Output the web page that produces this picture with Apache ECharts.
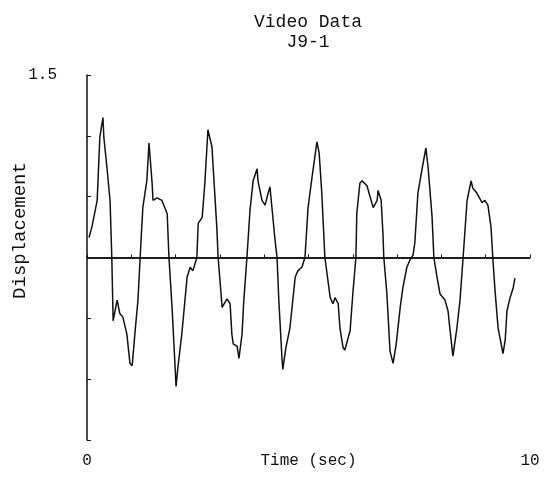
<!DOCTYPE html>
<html>
<head>
<meta charset="utf-8">
<script src="https://cdn.jsdelivr.net/npm/echarts@6/dist/echarts.min.js"></script>
<style>html,body{margin:0;padding:0;background:#fff;}#c{width:549px;height:483px;}</style>
</head>
<body>
<div id="c"></div>
<script>
var titleLines = ['Video Data', 'J9-1'];
var xTickLabels = ['0', '10'];
var yTickLabels = ['1.5'];
var timeSec = [0.045,0.11,0.23,0.29,0.32,0.36,0.38,0.45,0.52,0.56,0.59,0.68,0.74,0.81,0.90,0.97,1.02,1.08,1.15,1.20,1.26,1.35,1.40,1.47,1.49,1.58,1.69,1.81,1.85,1.92,1.99,2.01,2.05,2.14,2.26,2.33,2.39,2.48,2.51,2.60,2.66,2.73,2.82,2.93,2.96,3.05,3.16,3.23,3.27,3.30,3.39,3.43,3.50,3.54,3.61,3.68,3.75,3.84,3.86,3.95,4.02,4.09,4.13,4.18,4.24,4.29,4.33,4.40,4.42,4.49,4.58,4.70,4.76,4.85,4.92,4.99,5.08,5.19,5.24,5.30,5.37,5.49,5.55,5.60,5.67,5.71,5.78,5.82,5.94,6.00,6.07,6.09,6.16,6.21,6.32,6.34,6.46,6.55,6.57,6.64,6.68,6.70,6.77,6.84,6.91,6.98,7.07,7.13,7.22,7.29,7.36,7.40,7.47,7.56,7.65,7.70,7.79,7.83,7.90,7.97,8.08,8.15,8.19,8.26,8.35,8.42,8.49,8.58,8.67,8.71,8.80,8.92,8.98,9.05,9.12,9.16,9.21,9.28,9.39,9.44,9.48,9.55,9.62,9.66];
var displacement = [0.165,0.25,0.47,0.99,1.06,1.15,0.99,0.74,0.47,0,-0.52,-0.35,-0.46,-0.49,-0.63,-0.87,-0.89,-0.63,-0.35,0,0.41,0.63,0.94,0.61,0.47,0.49,0.47,0.36,0,-0.41,-0.91,-1.06,-0.91,-0.63,-0.16,-0.08,-0.11,0,0.28,0.33,0.61,1.05,0.91,0.25,0,-0.41,-0.34,-0.38,-0.63,-0.71,-0.73,-0.83,-0.63,-0.35,0,0.39,0.63,0.73,0.63,0.47,0.43,0.53,0.58,0.39,0.16,0,-0.35,-0.82,-0.92,-0.74,-0.58,-0.16,-0.11,-0.08,0,0.41,0.66,0.95,0.86,0.53,0,-0.33,-0.38,-0.33,-0.38,-0.58,-0.74,-0.76,-0.60,-0.30,0,0.36,0.61,0.63,0.59,0.58,0.41,0.47,0.55,0.47,0.20,0,-0.30,-0.77,-0.87,-0.71,-0.41,-0.25,-0.08,-0.02,0.02,0.12,0.53,0.72,0.90,0.74,0.33,0,-0.16,-0.30,-0.35,-0.44,-0.58,-0.81,-0.58,-0.35,0,0.47,0.63,0.57,0.53,0.45,0.47,0.43,0.25,0,-0.27,-0.58,-0.79,-0.68,-0.44,-0.33,-0.25,-0.17];

var pts = timeSec.map(function (t, i) { return [t, displacement[i]]; });
var font = 'Liberation Mono';
var chart = echarts.init(document.getElementById('c'));
chart.setOption({
  backgroundColor: '#fff',
  animation: false,
  title: {
    text: titleLines.join('\n'),
    left: 303, top: 7, textAlign: 'center',
    textStyle: { fontFamily: font, fontSize: 18, fontWeight: 'normal', color: '#111', lineHeight: 20 }
  },
  grid: { left: 87, right: 19, top: 75, bottom: 43, containLabel: false, outerBoundsMode: 'none' },
  xAxis: {
    type: 'value', min: 0, max: 10, interval: 1,
    name: 'Time (sec)', nameLocation: 'middle', nameGap: 13, nameMoveOverlap: false,
    nameTextStyle: { fontFamily: font, fontSize: 16, color: '#111' },
    axisLine: { lineStyle: { color: '#111', width: 1.5 } },
    axisTick: { inside: true, length: 3, lineStyle: { color: '#111' } },
    splitLine: { show: false },
    axisLabel: {
      margin: 13, fontFamily: font, fontSize: 16, color: '#111',
      formatter: function (v) { return v === 0 ? xTickLabels[0] : (v === 10 ? xTickLabels[1] : ''); }
    }
  },
  yAxis: {
    type: 'value', min: -1.5, max: 1.5, interval: 0.5,
    name: 'Displacement', nameLocation: 'middle', nameGap: 58, nameMoveOverlap: false,
    nameTextStyle: { fontFamily: font, fontSize: 19, color: '#111', padding: [0, 0, 0, 54] },
    axisLine: { lineStyle: { color: '#111', width: 1.5 } },
    axisTick: { inside: true, length: 4, lineStyle: { color: '#111' } },
    splitLine: { show: false },
    axisLabel: {
      margin: 30, fontFamily: font, fontSize: 16, color: '#111',
      formatter: function (v) { return v === 1.5 ? yTickLabels[0] : ''; }
    }
  },
  series: [{
    type: 'line', data: pts, showSymbol: false, smooth: false,
    lineStyle: { color: '#111', width: 1.5 },
    markLine: {
      silent: true, symbol: 'none', label: { show: false },
      lineStyle: { color: '#111', width: 1.5, type: 'solid' },
      data: [{ yAxis: 0 }]
    }
  }]
});
</script>
</body>
</html>
